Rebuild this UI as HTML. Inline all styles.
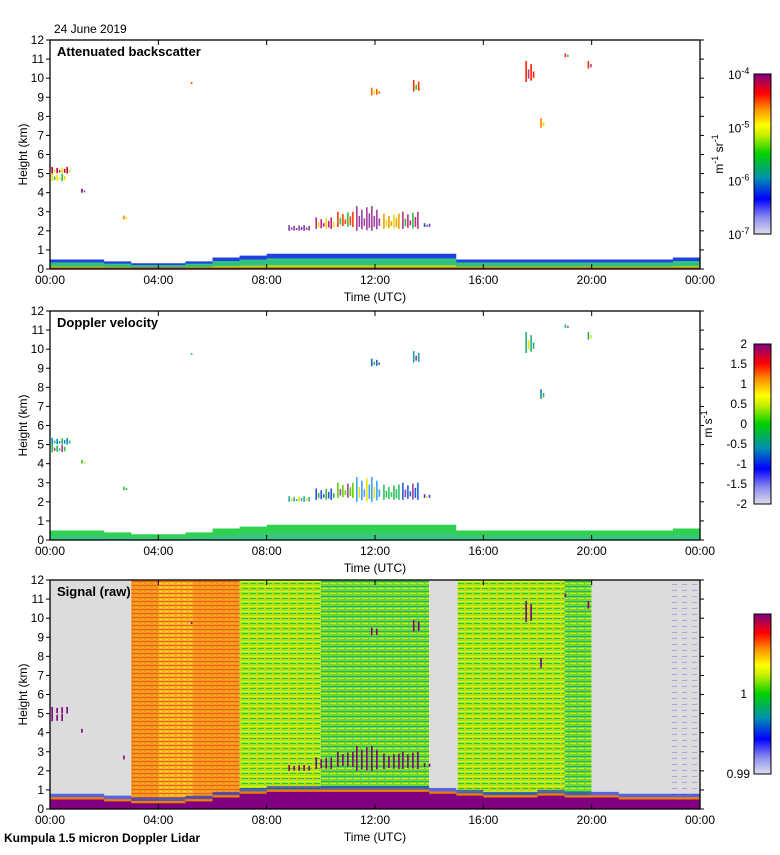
<!DOCTYPE html>
<html><head><meta charset="utf-8"><style>
body{margin:0;background:#fff;width:780px;height:850px;overflow:hidden;font-family:"Liberation Sans",sans-serif}
svg text{font-family:"Liberation Sans",sans-serif;font-size:12px;fill:#000}
</style></head><body>
<svg id="chart" width="780" height="850" xmlns="http://www.w3.org/2000/svg">
<defs>
<linearGradient id="cmap" x1="0" y1="1" x2="0" y2="0">
<stop offset="0" stop-color="#dcdcec"/><stop offset="0.1" stop-color="#9090ee"/><stop offset="0.22" stop-color="#0000ff"/>
<stop offset="0.35" stop-color="#0090b0"/><stop offset="0.5" stop-color="#00d000"/><stop offset="0.62" stop-color="#c8f000"/>
<stop offset="0.68" stop-color="#ffff00"/><stop offset="0.78" stop-color="#ff9000"/><stop offset="0.88" stop-color="#ff0000"/>
<stop offset="1" stop-color="#800080"/></linearGradient>
<pattern id="stripeOrange" width="6" height="4" patternUnits="userSpaceOnUse"><rect width="6" height="4" fill="#f8b020"/><rect y="1" width="6" height="1" fill="#f06020"/><rect x="3" y="3" width="3" height="1" fill="#e8e030"/></pattern>
<pattern id="stripeGreen" width="8" height="5" patternUnits="userSpaceOnUse"><rect width="8" height="5" fill="#a0e818"/><rect y="1" width="8" height="1" fill="#e8f010"/><rect x="2" y="3" width="6" height="1" fill="#30c050"/><rect x="0" y="4" width="3" height="1" fill="#f0c000"/></pattern>
<pattern id="stripeGreenBlue" width="8" height="5" patternUnits="userSpaceOnUse"><rect width="8" height="5" fill="#70d830"/><rect y="1" width="8" height="1" fill="#20b080"/><rect x="2" y="3" width="6" height="1" fill="#d0f000"/></pattern>
<pattern id="stripeGrey" width="10" height="6" patternUnits="userSpaceOnUse"><rect width="10" height="6" fill="#dcdcdc"/><rect x="2" y="2" width="5" height="1" fill="#a8a8e0"/></pattern>
</defs>
<g id="p1"></g>
<g id="p2"></g>
<g id="p3"></g>
<text x="54" y="33">24 June 2019</text>
<text x="4" y="842" style="font-weight:bold">Kumpula 1.5 micron Doppler Lidar</text>
</svg>
<script>
// boundary layer (hours, km)
const blHours=[0,1,2,3,4,5,6,7,8,9,10,11,12,13,14,15,16,17,18,19,20,21,22,23,24];
const blTop=[0.5,0.5,0.4,0.3,0.3,0.4,0.6,0.7,0.8,0.8,0.8,0.8,0.8,0.8,0.8,0.5,0.5,0.5,0.5,0.5,0.5,0.5,0.5,0.6,0.6];
const sigBase=[0.5,0.5,0.4,0.3,0.3,0.4,0.6,0.8,0.9,0.9,0.9,0.9,0.9,0.9,0.8,0.7,0.6,0.6,0.7,0.6,0.6,0.5,0.5,0.5,0.5];
// clouds
const cloudStart=[0.05,0.05,1.15,2.7,5.2,8.8,9.8,10.6,11.3,12.3,13.0,13.8,11.85,13.4,17.55,18.1,19.0,19.85];
const cloudEnd=[0.75,0.6,1.3,2.8,5.25,9.6,10.5,11.2,12.2,12.9,13.6,14.0,12.2,13.65,17.85,18.25,19.1,20.0];
const cloudLow=[5.0,4.6,4.0,2.6,9.7,2.0,2.1,2.2,2.0,2.1,2.1,2.2,9.1,9.3,9.8,7.4,11.1,10.5];
const cloudHigh=[5.35,5.0,4.2,2.8,9.8,2.3,2.7,3.0,3.3,2.9,3.0,2.4,9.5,9.9,10.9,7.9,11.3,10.9];
const bsColor=["#c00030","#f0e000","#800080","#ff8000","#ff6000","#8040a0","#c02080","#ff4000","#a040a0","#f0a000","#c03080","#4040c0","#ff6000","#ff3000","#ff2000","#ff8000","#ff2020","#ff3000"];
const dvColor=["#0090c0","#20c040","#40c040","#40c040","#40c0c0","#30b0a0","#3050e0","#60d000","#40a0ff","#30c070","#2060e0","#4040c0","#2060d0","#20a0a0","#20b080","#2080c0","#20c090","#30b070"];
// signal segments
const segStart=[0,3.0,7.0,10.0,14.0,15.05,19.0,20.0,22.8];
const segEnd=[3.0,7.0,10.0,14.0,15.05,19.0,20.0,22.8,24];
const segFill=["#dcdcdc","url(#stripeOrange)","url(#stripeGreen)","url(#stripeGreenBlue)","#dcdcdc","url(#stripeGreen)","url(#stripeGreenBlue)","#dcdcdc","url(#stripeGrey)"];
const redStart=[3.0,5.3];const redEnd=[4.0,7.0];
const cb1Labels=["-4","-5","-6","-7"];
const cb2Labels=["2","1.5","1","0.5","0","-0.5","-1","-1.5","-2"];
const xTickLabels=["00:00","04:00","08:00","12:00","16:00","20:00","00:00"];

const NS="http://www.w3.org/2000/svg";
const L=50,R=700,H=229;
const tops=[40,311,580];
const X=t=>L+t*(R-L)/24;
const Y=(p,h)=>tops[p]+H-h*H/12;
function el(tag,attrs,parent,txt){const e=document.createElementNS(NS,tag);for(const k in attrs)e.setAttribute(k,attrs[k]);if(txt!==undefined)e.textContent=txt;parent.appendChild(e);return e;}
const g=[document.getElementById('p1'),document.getElementById('p2'),document.getElementById('p3')];

function blPath(p,arr,base){let d=`M${X(0)},${Y(p,base)}`;for(let i=0;i<blHours.length-1;i++){d+=`L${X(blHours[i])},${Y(p,arr[i])}L${X(blHours[i+1])},${Y(p,arr[i])}`;}d+=`L${X(24)},${Y(p,base)}Z`;return d;}

for(let i=0;i<segStart.length;i++){
 const r=el('rect',{x:X(segStart[i]),y:tops[2],width:X(segEnd[i])-X(segStart[i]),height:H,fill:segFill[i]},g[2]);
 
 
}
for(let i=0;i<redStart.length;i++){
 const r=el('rect',{x:X(redStart[i]),y:tops[2],width:X(redEnd[i])-X(redStart[i]),height:H,fill:"#f06010",opacity:0.35},g[2]);
 
 
}
const a=el('path',{d:blPath(0,blTop,0),fill:"#2040e0"},g[0]);
el('path',{d:blPath(0,blTop.map(v=>v*0.7),0),fill:"#30c080"},g[0]);
el('path',{d:blPath(0,blTop.map(v=>v*0.25),0),fill:"#a0e020"},g[0]);
el('rect',{x:L,y:Y(0,0.08),width:R-L,height:2,fill:"#e04000"},g[0]);
const b=el('path',{d:blPath(1,blTop,0),fill:"#30d050"},g[1]);
el('path',{d:blPath(1,blTop.map(v=>v*0.45),0),fill:"#40c0a0",opacity:0.6},g[1]);
el('path',{d:blPath(2,sigBase.map(v=>v+0.3),0),fill:"#2030e0",opacity:0.7},g[2]);
el('path',{d:blPath(2,sigBase.map(v=>v+0.12),0),fill:"#f08000"},g[2]);
const c=el('path',{d:blPath(2,sigBase,0),fill:"#800080"},g[2]);
// clouds drawn as thin vertical streaks
const streakH=[1,0.6,0.85,0.5,0.95,0.7];
const streakC2=["#f0e000","#30c040","#a040a0"];
for(let i=0;i<cloudStart.length;i++){
 const x0=X(cloudStart[i]),x1=Math.max(X(cloudEnd[i]),x0+2);
 let k=0;
 for(let x=x0;x<x1;x+=2.5,k++){
  const frac=streakH[k%streakH.length];
  const top=cloudLow[i]+(cloudHigh[i]-cloudLow[i])*frac;
  const bot=cloudLow[i]+(cloudHigh[i]-cloudLow[i])*(1-frac)*0.4;
  for(let p=0;p<3;p++){
   let col=p==0?bsColor[i]:(p==1?dvColor[i]:"#800080");
   if(p<2&&k%3==1)col=streakC2[(i+p)%3];
   if(p==2&&k%2==1)continue;
   const r=el('rect',{x:x,y:Y(p,top),width:1.6,height:Math.max(2,Y(p,bot)-Y(p,top)),fill:col},g[p]);
   
   
  }
 }
}
const titles=["Attenuated backscatter","Doppler velocity","Signal (raw)"];
for(let p=0;p<3;p++){
 const f=el('rect',{x:L,y:tops[p],width:R-L,height:H,fill:"none",stroke:"#000","stroke-width":1.3},g[p]);
 
 for(let k=0;k<=12;k++){const y=Y(p,k);
  el('line',{x1:L-4,x2:L,y1:y,y2:y,stroke:"#000"},g[p]);el('line',{x1:R,x2:R+4,y1:y,y2:y,stroke:"#000"},g[p]);
  const t=el('text',{x:L-6,y:y+4,"text-anchor":"end"},g[p],String(k));}
 for(let k=0;k<xTickLabels.length;k++){const x=X(k*4);
  el('line',{x1:x,x2:x,y1:tops[p],y2:tops[p]+5,stroke:"#000"},g[p]);el('line',{x1:x,x2:x,y1:tops[p]+H-5,y2:tops[p]+H,stroke:"#000"},g[p]);
  const t=el('text',{x:x,y:tops[p]+H+15,"text-anchor":"middle"},g[p],xTickLabels[k]);}
 const xt=el('text',{x:375,y:tops[p]+H+32,"text-anchor":"middle"},g[p],"Time (UTC)");
 const yt=el('text',{x:0,y:0,"text-anchor":"middle",transform:`translate(27,${tops[p]+H/2}) rotate(-90)`},g[p],"Height (km)");
 const tt=el('text',{x:57,y:tops[p]+16,style:"font-weight:bold;font-size:13px"},g[p],titles[p]);
}
const cbTop=[74,344,614],cbH=160;
for(let p=0;p<3;p++){
 const r=el('rect',{x:754,y:cbTop[p],width:17,height:cbH,fill:"url(#cmap)",stroke:"#000"},g[p]);
 
}
for(let i=0;i<cb1Labels.length;i++){const y=cbTop[0]+i*cbH/3;
 const t=el('text',{x:728,y:y+5},g[0]);
 el('tspan',{},t,"10");el('tspan',{dy:-5,style:"font-size:9px"},t,cb1Labels[i]);}
const u1=el('text',{x:0,y:0,"text-anchor":"middle",transform:`translate(723,154) rotate(-90)`},g[0]);
el('tspan',{},u1,"m");el('tspan',{dy:-5,style:"font-size:9px"},u1,"-1");el('tspan',{dy:5},u1," sr");el('tspan',{dy:-5,style:"font-size:9px"},u1,"-1");
for(let i=0;i<cb2Labels.length;i++){const y=cbTop[1]+i*cbH/8;
 const t=el('text',{x:747,y:y+4,"text-anchor":"end"},g[1],cb2Labels[i]);}
const u2=el('text',{x:0,y:0,"text-anchor":"middle",transform:`translate(712,424) rotate(-90)`},g[1]);
el('tspan',{},u2,"m s");el('tspan',{dy:-5,style:"font-size:9px"},u2,"-1");
const s1=el('text',{x:747,y:698,"text-anchor":"end"},g[2],"1");
const s2=el('text',{x:750,y:778,"text-anchor":"end"},g[2],"0.99");
</script>
</body></html>
